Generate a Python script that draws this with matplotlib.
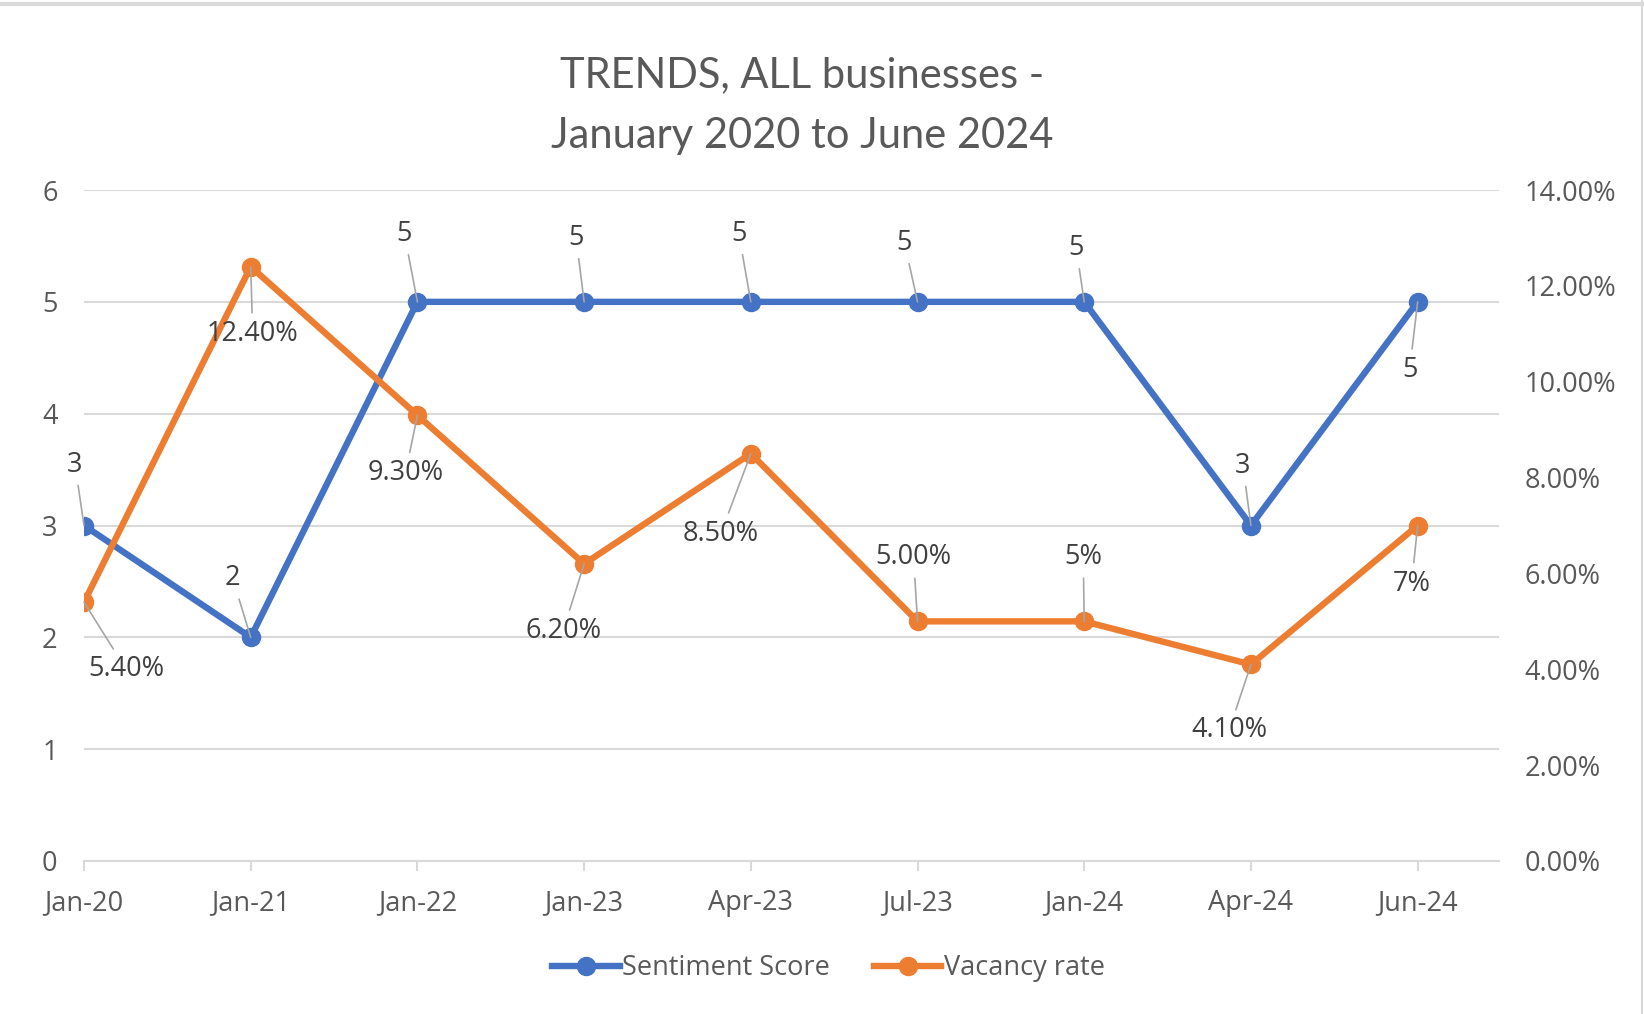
import matplotlib.pyplot as plt
from matplotlib.lines import Line2D
from matplotlib.ticker import FuncFormatter

periods = ["Jan-20", "Jan-21", "Jan-22", "Jan-23", "Apr-23", "Jul-23", "Jan-24", "Apr-24", "Jun-24"]
sentiment = [3, 2, 5, 5, 5, 5, 5, 3, 5]
vacancy = [5.4, 12.4, 9.3, 6.2, 8.5, 5.0, 5.0, 4.1, 7.0]
vacancy_labels = ["5.40%", "12.40%", "9.30%", "6.20%", "8.50%", "5.00%", "5%", "4.10%", "7%"]

# label offsets in pixels from each point (dx, dy)
sent_offsets = [(-9, 61), (-18, 59), (-13, 68), (-8, 64), (-12, 68), (-13, 59), (-8, 54), (-8, 60), (-8, -68)]
vac_offsets = [(42, -67), (2, -67), (-12, -58), (-21, -67), (-30, -80), (-4, 64), (-1, 64), (-22, -66), (-6, -58)]

BLUE = "#4472C4"
ORANGE = "#ED7D31"
GREY_TXT = "#595959"
LABEL_TXT = "#404040"
GRID = "#D9D9D9"
FS = 19.5

plt.rcParams["font.family"] = ["Open Sans", "DejaVu Sans"]

fig = plt.figure(figsize=(16.44, 10.14), dpi=100)
ax = fig.add_axes([0.0511, 0.1509, 0.9120 - 0.0511, 0.8126 - 0.1509])
ax2 = ax.twinx()

x = list(range(len(periods)))

ax.plot(x, sentiment, color=BLUE, lw=4.6, marker="o", ms=13, label="Sentiment Score")
ax2.plot(x, vacancy, color=ORANGE, lw=4.6, marker="o", ms=13, label="Vacancy rate")

ax.set_xlim(0, 8.49)
ax.set_ylim(0, 6)
ax2.set_ylim(0, 14)

ax.set_yticks(range(0, 7))
ax2.set_yticks(range(0, 15, 2))
ax2.yaxis.set_major_formatter(FuncFormatter(lambda v, _: f"{v:.2f}%"))
ax.set_xticks(x)
ax.set_xticklabels(periods)

ax.grid(axis="y", color=GRID, lw=1.5)
ax.set_axisbelow(True)
for a in (ax, ax2):
    for s in a.spines.values():
        s.set_visible(False)
ax.spines["bottom"].set_visible(True)
ax.spines["bottom"].set_color(GRID)
ax.spines["bottom"].set_linewidth(1.5)

ax.tick_params(axis="y", length=0, pad=19, labelsize=FS, labelcolor=GREY_TXT)
ax2.tick_params(axis="y", length=0, pad=18, labelsize=FS, labelcolor=GREY_TXT)
ax.tick_params(axis="x", length=7, width=1.5, color=GRID, pad=13, labelsize=FS, labelcolor=GREY_TXT)

leader = dict(arrowstyle="-", color="#A6A6A6", lw=1.2, shrinkA=3, shrinkB=0)
for i, v in enumerate(sentiment):
    ax2.annotate(str(v), xy=(i, v), xycoords=ax.transData, xytext=sent_offsets[i],
                 textcoords="offset pixels", ha="center", va="center",
                 fontsize=FS, color=LABEL_TXT, arrowprops=leader)
for i, v in enumerate(vacancy):
    ax2.annotate(vacancy_labels[i], xy=(i, v), xytext=vac_offsets[i],
                 textcoords="offset pixels", ha="center", va="center",
                 fontsize=FS, color=LABEL_TXT, arrowprops=leader)

fig.text(0.488, 0.926, "TRENDS, ALL businesses -", ha="center", va="center",
         fontsize=30, color=GREY_TXT, family=["Lato", "DejaVu Sans"])
fig.text(0.488, 0.866, "January 2020 to June 2024", ha="center", va="center",
         fontsize=30, color=GREY_TXT, family=["Lato", "DejaVu Sans"])

handles = ax.get_lines() + ax2.get_lines()
fig.legend(handles, [h.get_label() for h in handles], loc="center", bbox_to_anchor=(0.504, 0.045),
           ncol=2, frameon=False, fontsize=FS, handlelength=2.5, handletextpad=0.1,
           columnspacing=1.6, labelcolor=GREY_TXT)

# chart frame edges
fig.add_artist(Line2D([0, 1], [0.996, 0.996], color=GRID, lw=3))
fig.add_artist(Line2D([0.9985, 0.9985], [0, 1], color=GRID, lw=1.5))

fig.savefig("out.png", dpi=100, facecolor="white")
